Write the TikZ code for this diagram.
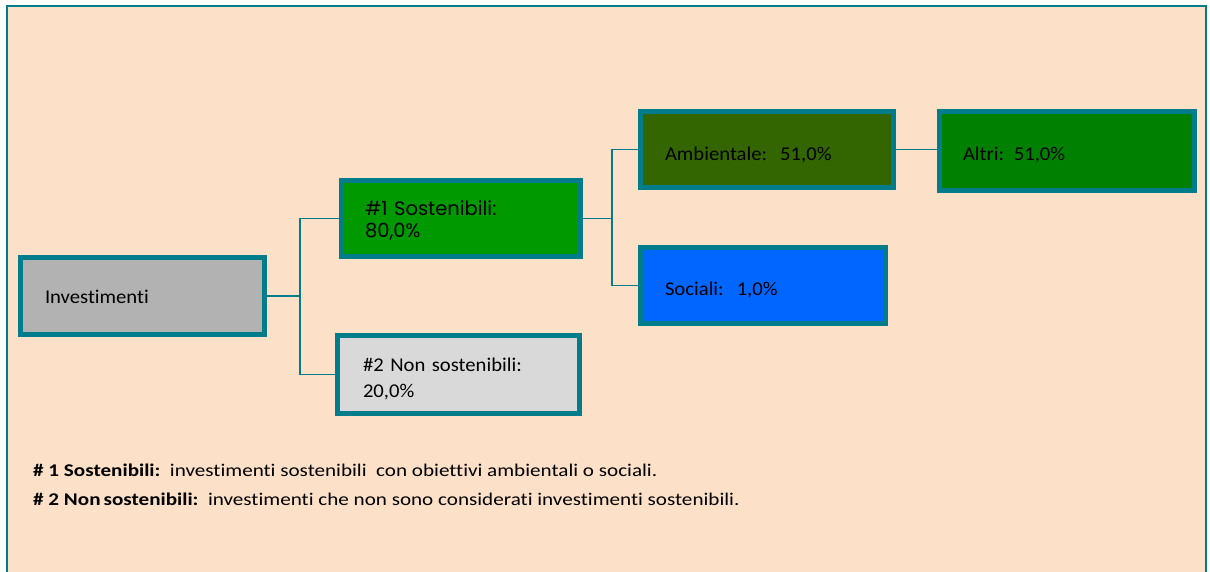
\documentclass[tikz,border=0pt]{standalone}
\usepackage{fontspec}
\setmainfont{Carlito}[Ligatures=NoCommon]
\newfontfamily\boxfont{Carlito}[Ligatures=NoCommon, FakeStretch=1.06]
\newfontfamily\notefont{Carlito}[Ligatures=NoCommon, FakeStretch=1.18]
\newfontfamily\gothic{Poppins}
\definecolor{peach}{HTML}{FDE0C8}
\definecolor{teal}{HTML}{007C8A}
\definecolor{greyA}{HTML}{B2B2B2}
\definecolor{greyB}{HTML}{D9D9D9}
\definecolor{greenA}{HTML}{009900}
\definecolor{greenB}{HTML}{336600}
\definecolor{greenC}{HTML}{008000}
\definecolor{blueA}{HTML}{0066FF}
\tikzset{
  box/.style n args={4}{draw=teal, line width=4.5pt, fill=#4, rectangle,
    minimum width=#1pt, minimum height=#2pt, inner xsep=#3pt, inner ysep=0pt,
    text width=#1pt-2*#3pt, align=left, font=\boxfont\fontsize{19.5}{26}\selectfont},
  conn/.style={draw=teal, line width=1.8pt},
  note/.style={anchor=base west, inner sep=0pt, font=\notefont\fontsize{17.9}{20}\selectfont}
}
\begin{document}
\begin{tikzpicture}[x=1pt,y=-1pt]
\useasboundingbox (0,0) rectangle (1210,571);
\fill[white] (0,0) rectangle (1210,571);
\draw[teal, line width=2pt, fill=peach] (6.5,5.5) rectangle (1205.5,600);

\node[box={244}{77}{24.5}{greyA}] (inv) at (142.5,296) {\rule{0pt}{16pt}Investimenti};
\node[box={239}{76}{23.5}{greenA}, font={\gothic\fontsize{19.5}{22}\selectfont}] (s1) at (461,218.5) {\rule{0pt}{19pt}\#1 Sostenibili:\\80,0\%};
\node[box={242}{78}{25.5}{greyB}] (n2) at (458.5,374.5) {\rule{0pt}{21.5pt}\#2 Non sostenibili:\\20,0\%};
\node[box={253}{76}{24.5}{greenB}] (amb) at (767,149.5) {\rule{0pt}{24pt}Ambientale:\ \ 51,0\%};
\node[box={245}{76}{24.5}{blueA}] (soc) at (763,285.5) {\rule{0pt}{23pt}Sociali:\ \ 1,0\%};
\node[box={255}{79}{23.5}{greenC}] (alt) at (1067,151) {\rule{0pt}{21pt}Altri: 51,0\%};

\coordinate (j1) at (300,296);
\coordinate (j2) at (612,218.5);
\draw[conn] (inv.east) -- (j1) |- (s1.west);
\draw[conn] (j1) |- (n2.west);
\draw[conn] (s1.east) -- (j2) |- (amb.west);
\draw[conn] (j2) |- (soc.west);
\draw[conn] (amb.east) -- (amb.east -| alt.west);

\node[note] (f1) at (33,476) {\textbf{\# 1 Sostenibili:}\ \ investimenti sostenibili\ \ con obiettivi\ ambientali o sociali.};
\node[note] (f2) at (33,505) {\textbf{\# 2 Non\,sostenibili:}\ \ investimenti che non sono considerati investimenti\ sostenibili.};
\end{tikzpicture}
\end{document}
